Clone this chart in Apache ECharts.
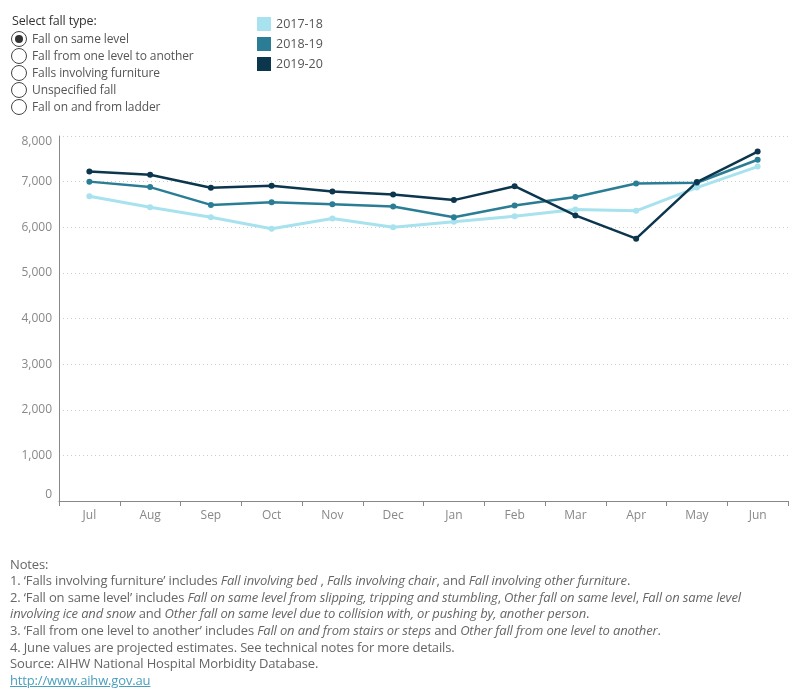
<!DOCTYPE html>
<html>
<head>
<meta charset="utf-8">
<script src="https://cdn.jsdelivr.net/npm/echarts@6/dist/echarts.min.js"></script>
<style>
  body { margin: 0; background: #fff; font-family: "Open Sans", sans-serif; }
  #wrap { position: relative; width: 800px; height: 700px; }
  #chart { position: absolute; left: 0; top: 0; width: 800px; height: 700px; }
  .txt { position: absolute; font-size: 13px; color: #666; white-space: nowrap; letter-spacing: -0.15px; }
  .radio { position: absolute; left: 11px; width: 16px; height: 16px; border: 1px solid #444; border-radius: 50%; box-sizing: border-box; background: #fff; }
  .radio.on::after { content: ""; position: absolute; left: 3px; top: 3px; width: 8px; height: 8px; border-radius: 50%; background: #333; }
  .opt { position: absolute; left: 32px; font-size: 12px; color: #555; letter-spacing: -0.1px; }
  i { font-style: italic; }
  a { color: #4a9fbf; }
</style>
</head>
<body>
<div id="wrap">
  <div id="chart"></div>
  <!-- filtre, juste visuel -->
  <div class="txt" style="left:12px; top:12px; color:#333; font-size:12.5px;">Select fall type:</div>
  <div id="opts"></div>
  <!-- notes en bas -->
  <div class="txt" style="left:10px; top:555px;">Notes:</div>
  <div class="txt" style="left:10px; top:571px;">1. ‘Falls involving furniture’ includes <i>Fall involving bed</i> , <i>Falls involving chair</i>, and <i>Fall involving other furniture</i>.</div>
  <div class="txt" style="left:10px; top:588px;">2. ‘Fall on same level’ includes <i>Fall on same level from slipping, tripping and stumbling</i>, <i>Other fall on same level</i>, <i>Fall on same level</i></div>
  <div class="txt" style="left:10px; top:604px;"><i>involving ice and snow</i> and <i>Other fall on same level due to collision with, or pushing by, another person</i>.</div>
  <div class="txt" style="left:10px; top:621px;">3. ‘Fall from one level to another’ includes <i>Fall on and from stairs or steps</i> and <i>Other fall from one level to another</i>.</div>
  <div class="txt" style="left:10px; top:638px;">4. June values are projected estimates. See technical notes for more details.</div>
  <div class="txt" style="left:10px; top:654px;">Source: AIHW National Hospital Morbidity Database.</div>
  <div class="txt" style="left:10px; top:671px;"><a href="#">http://www.aihw.gov.au</a></div>
</div>
<script>
const months = ['Jul', 'Aug', 'Sep', 'Oct', 'Nov', 'Dec', 'Jan', 'Feb', 'Mar', 'Apr', 'May', 'Jun'];
const years = ['2017-18', '2018-19', '2019-20'];
const fy2017 = [6680, 6440, 6220, 5965, 6190, 6000, 6120, 6240, 6390, 6360, 6870, 7330];
const fy2018 = [7000, 6880, 6490, 6550, 6505, 6455, 6220, 6475, 6665, 6960, 6975, 7480];
const fy2019 = [7220, 7150, 6865, 6910, 6785, 6720, 6595, 6900, 6260, 5750, 6990, 7660];
const fallTypes = ['Fall on same level', 'Fall from one level to another', 'Falls involving furniture', 'Unspecified fall', 'Fall on and from ladder'];
const colors = ['#a7e2ee', '#2a7d95', '#0c364d'];

// boutons radio
let optsHtml = '';
fallTypes.forEach((t, i) => {
  let y = 31 + i * 17;
  optsHtml += '<div class="radio' + (i === 0 ? ' on' : '') + '" style="top:' + y + 'px"></div>';
  optsHtml += '<div class="opt" style="top:' + (y - 1) + 'px">' + t + '</div>';
});
document.getElementById('opts').innerHTML = optsHtml;

let myChart = echarts.init(document.getElementById('chart'));
let option;

option = {
  animation: false,
  textStyle: { fontFamily: 'Open Sans' },
  legend: {
    data: years,
    orient: 'vertical',
    left: 252,
    top: 12,
    itemWidth: 14,
    itemHeight: 14,
    itemGap: 6,
    icon: 'rect',
    textStyle: { color: '#555', fontSize: 12.5 }
  },
  grid: { left: 59, right: 12, top: 136, bottom: 199 },
  xAxis: {
    type: 'category',
    data: months,
    boundaryGap: true,
    axisLine: { lineStyle: { color: '#888' } },
    axisTick: { show: true, length: 5, lineStyle: { color: '#888' } },
    axisLabel: { color: '#888', fontSize: 12, margin: 9 }
  },
  yAxis: {
    type: 'value',
    min: 0,
    max: 8000,
    interval: 1000,
    axisLine: { show: true, lineStyle: { color: '#888' } },
    axisTick: { show: false },
    axisLabel: {
      color: '#888',
      fontSize: 12,
      margin: 7,
      verticalAlignMaxLabel: 'top',
      verticalAlignMinLabel: 'bottom',
      formatter: v => v.toLocaleString('en-US')
    },
    splitLine: { lineStyle: { color: '#ccc', type: [1, 3] } }
  },
  series: [
    { name: years[0], type: 'line', data: fy2017, lineStyle: { width: 3 } },
    { name: years[1], type: 'line', data: fy2018, lineStyle: { width: 2.5 } },
    { name: years[2], type: 'line', data: fy2019, lineStyle: { width: 2.5 } }
  ].map((s, i) => Object.assign(s, {
    color: colors[i],
    symbol: 'circle',
    symbolSize: 6,
    itemStyle: { color: colors[i] }
  }))
};

option && myChart.setOption(option);
</script>
</body>
</html>
